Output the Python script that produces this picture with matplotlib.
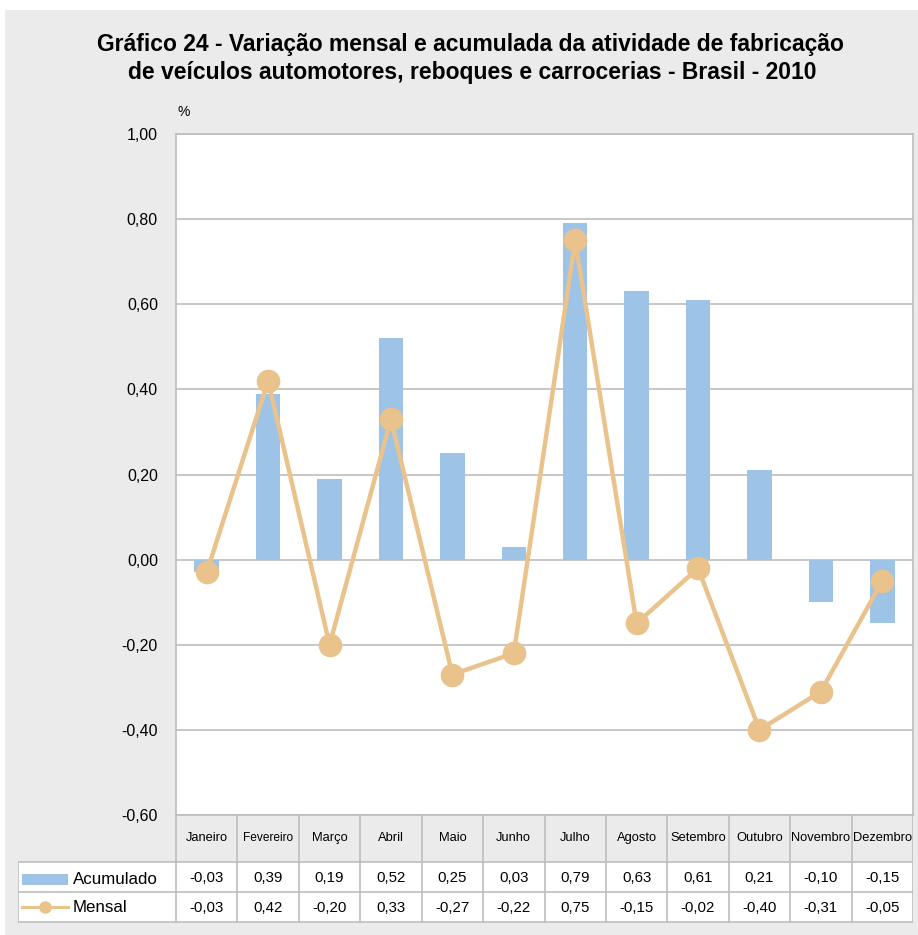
import matplotlib.pyplot as plt
import numpy as np

plt.rcParams['font.family'] = ['Liberation Sans', 'DejaVu Sans']

meses = ['Janeiro', 'Fevereiro', 'Março', 'Abril', 'Maio', 'Junho', 'Julho',
         'Agosto', 'Setembro', 'Outubro', 'Novembro', 'Dezembro']
acumulado = [-0.03, 0.39, 0.19, 0.52, 0.25, 0.03, 0.79, 0.63, 0.61, 0.21, -0.10, -0.15]
mensal = [-0.03, 0.42, -0.20, 0.33, -0.27, -0.22, 0.75, -0.15, -0.02, -0.40, -0.31, -0.05]
yticks = [-0.6, -0.4, -0.2, 0.0, 0.2, 0.4, 0.6, 0.8, 1.0]

W, H = 918, 935
bg = '#ebebeb'
grid = '#bdbdbd'
blue = '#9dc3e6'
tan = '#eac28c'

fig = plt.figure(figsize=(W / 100, H / 100), dpi=100, facecolor=bg)

# white margins at top and left
fig.patches.append(plt.Rectangle((0, 1 - 10 / H), 1, 10 / H, transform=fig.transFigure,
                                 facecolor='white', edgecolor='none', zorder=-1))
fig.patches.append(plt.Rectangle((0, 0), 5 / W, 1, transform=fig.transFigure,
                                 facecolor='white', edgecolor='none', zorder=-1))

def px(x0, y0, x1, y1):
    return [x0 / W, 1 - y1 / H, (x1 - x0) / W, (y1 - y0) / H]

ax = fig.add_axes(px(176, 134, 913, 815))
x = np.arange(len(meses))
ax.bar(x, acumulado, width=0.4, color=blue, zorder=2)
ax.plot(x, mensal, color=tan, lw=3.2, marker='o', ms=16, zorder=3)
ax.set_xlim(-0.5, 11.5)
ax.set_ylim(-0.6, 1.0)
ax.set_yticks(yticks)
ax.set_yticklabels([f'{v:.2f}'.replace('.', ',') for v in yticks], fontsize=11.5)
ax.set_xticks([])
ax.tick_params(axis='y', length=0, pad=13)
ax.yaxis.grid(True, color=grid, lw=1.2)
ax.set_axisbelow(True)
for s in ax.spines.values():
    s.set_color(grid)
    s.set_linewidth(1.2)
fig.text(178 / W, 1 - 112 / H, '%', fontsize=10, va='center')

fig.text(470 / W, 1 - 45 / H, 'Gráfico 24 - Variação mensal e acumulada da atividade de fabricação',
         ha='center', va='center', fontsize=16.5, fontweight='bold')
fig.text(472 / W, 1 - 72 / H, 'de veículos automotores, reboques e carrocerias - Brasil - 2010',
         ha='center', va='center', fontsize=16.5, fontweight='bold')

# data table below the chart
tb = fig.add_axes(px(18, 815, 913, 923))
left = -0.5 - (176 - 18) / (737 / 12)
tb.set_xlim(left, 11.5)
tb.set_ylim(923, 815)
tb.axis('off')
tb.add_patch(plt.Rectangle((left, 862), 11.5 - left, 61, facecolor='white',
                           edgecolor='none'))
for b in np.arange(-0.5, 12, 1):
    tb.plot([b, b], [815, 922], color=grid, lw=1.2)
tb.plot([left, left], [862, 922], color=grid, lw=1.2)
for yy in [862, 892, 922]:
    tb.plot([left, 11.5], [yy, yy], color=grid, lw=1.2)
for i, m in enumerate(meses):
    tb.text(i, 838, m, ha='center', va='center', fontsize=9.3 if len(m) < 9 else 8.6)
    tb.text(i, 878, f'{acumulado[i]:.2f}'.replace('.', ','), ha='center', va='center', fontsize=10.8)
    tb.text(i, 908, f'{mensal[i]:.2f}'.replace('.', ','), ha='center', va='center', fontsize=10.8)

# legend keys
sw = 46 / (737 / 12)
x0 = left + 4 / (737 / 12)
tb.add_patch(plt.Rectangle((x0, 874), sw, 11, facecolor=blue, edgecolor='none'))
tb.plot([x0, x0 + sw], [907, 907], color=tan, lw=2.2)
tb.plot([x0 + sw / 2], [907], marker='o', ms=8, color=tan)
tb.text(x0 + sw + 0.08, 880, 'Acumulado', va='center', fontsize=12.2)
tb.text(x0 + sw + 0.08, 908, 'Mensal', va='center', fontsize=12.2)

fig.savefig('out.png', dpi=100, facecolor=bg)
